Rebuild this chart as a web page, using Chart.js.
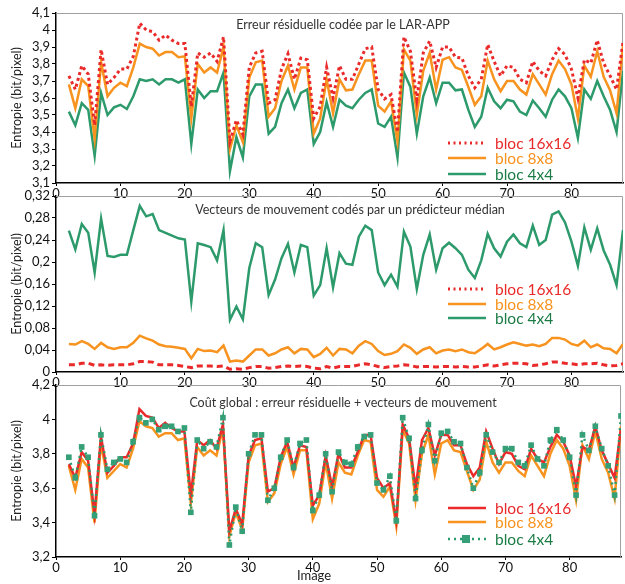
<!DOCTYPE html>
<html>
<head>
<meta charset="utf-8">
<script src="https://cdn.jsdelivr.net/npm/chart.js@4"></script>
<style>
  html, body { margin: 0; padding: 0; background: #fff; }
  #wrap { position: relative; width: 625px; height: 584px; }
  #wrap canvas { position: absolute; left: 0; }
</style>
</head>
<body>
<div id="wrap">
  <canvas id="c1" width="625" height="200" style="top:0"></canvas>
  <canvas id="c2" width="625" height="204" style="top:186px"></canvas>
  <canvas id="c3" width="625" height="209" style="top:375px"></canvas>
</div>
<script>
// Entropie par image, blocs 16x16 / 8x8 / 4x4

const images = [
  2, 3, 4, 5, 6, 7, 8, 9, 10, 11,
  12, 13, 14, 15, 16, 17, 18, 19, 20, 21,
  22, 23, 24, 25, 26, 27, 28, 29, 30, 31,
  32, 33, 34, 35, 36, 37, 38, 39, 40, 41,
  42, 43, 44, 45, 46, 47, 48, 49, 50, 51,
  52, 53, 54, 55, 56, 57, 58, 59, 60, 61,
  62, 63, 64, 65, 66, 67, 68, 69, 70, 71,
  72, 73, 74, 75, 76, 77, 78, 79, 80, 81,
  82, 83, 84, 85, 86, 87, 88
];

// erreur résiduelle (LAR-APP)
const err16 = [
  3.73, 3.65, 3.79, 3.74, 3.44, 3.885, 3.68, 3.72, 3.77, 3.77,
  3.845, 4.04, 4.00, 3.99, 3.94, 3.97, 3.94, 3.92, 3.92, 3.55,
  3.865, 3.84, 3.865, 3.815, 3.96, 3.345, 3.47, 3.385, 3.78, 3.865,
  3.875, 3.57, 3.59, 3.77, 3.86, 3.71, 3.835, 3.825, 3.48, 3.55,
  3.78, 3.60, 3.79, 3.71, 3.71, 3.80, 3.89, 3.90, 3.65, 3.595,
  3.62, 3.40, 3.96, 3.875, 3.59, 3.865, 3.935, 3.78, 3.90, 3.90,
  3.84, 3.835, 3.73, 3.66, 3.71, 3.915, 3.815, 3.73, 3.79, 3.78,
  3.71, 3.69, 3.815, 3.76, 3.73, 3.825, 3.89, 3.855, 3.77, 3.60,
  3.825, 3.805, 3.94, 3.805, 3.73, 3.65, 3.93
];
const err8 = [
  3.68, 3.54, 3.71, 3.67, 3.36, 3.81, 3.61, 3.66, 3.69, 3.67,
  3.78, 3.92, 3.90, 3.89, 3.85, 3.87, 3.87, 3.84, 3.845, 3.48,
  3.80, 3.75, 3.78, 3.75, 3.90, 3.30, 3.44, 3.34, 3.72, 3.81,
  3.82, 3.49, 3.54, 3.70, 3.79, 3.65, 3.78, 3.78, 3.39, 3.48,
  3.71, 3.51, 3.71, 3.645, 3.65, 3.74, 3.82, 3.82, 3.555, 3.52,
  3.58, 3.345, 3.885, 3.82, 3.50, 3.76, 3.865, 3.65, 3.825, 3.84,
  3.78, 3.765, 3.665, 3.56, 3.61, 3.82, 3.71, 3.64, 3.70, 3.70,
  3.65, 3.62, 3.74, 3.68, 3.62, 3.74, 3.82, 3.77, 3.68, 3.48,
  3.79, 3.725, 3.875, 3.725, 3.645, 3.51, 3.91
];
const err4 = [
  3.52, 3.44, 3.57, 3.53, 3.26, 3.63, 3.50, 3.545, 3.56, 3.535,
  3.61, 3.71, 3.70, 3.71, 3.68, 3.71, 3.71, 3.69, 3.71, 3.33,
  3.65, 3.60, 3.64, 3.64, 3.75, 3.17, 3.37, 3.25, 3.61, 3.68,
  3.68, 3.39, 3.43, 3.57, 3.65, 3.54, 3.63, 3.65, 3.33, 3.40,
  3.575, 3.43, 3.59, 3.555, 3.54, 3.59, 3.63, 3.65, 3.45, 3.43,
  3.49, 3.25, 3.75, 3.665, 3.39, 3.61, 3.72, 3.57, 3.69, 3.69,
  3.645, 3.65, 3.53, 3.43, 3.49, 3.66, 3.58, 3.54, 3.59, 3.58,
  3.52, 3.50, 3.585, 3.54, 3.49, 3.59, 3.65, 3.61, 3.54, 3.365,
  3.65, 3.595, 3.70, 3.61, 3.53, 3.40, 3.76
];

// vecteurs de mouvement (prédicteur médian)
const mv16 = [
  0.013, 0.013, 0.016, 0.016, 0.012, 0.013, 0.012, 0.013, 0.013, 0.013,
  0.015, 0.019, 0.019, 0.018, 0.013, 0.013, 0.013, 0.012, 0.010, 0.008,
  0.011, 0.011, 0.011, 0.010, 0.011, 0.005, 0.006, 0.005, 0.008, 0.010,
  0.010, 0.007, 0.008, 0.010, 0.011, 0.010, 0.011, 0.010, 0.007, 0.006,
  0.010, 0.007, 0.010, 0.010, 0.010, 0.013, 0.015, 0.013, 0.010, 0.008,
  0.010, 0.011, 0.013, 0.012, 0.009, 0.010, 0.010, 0.009, 0.010, 0.010,
  0.009, 0.010, 0.009, 0.009, 0.011, 0.013, 0.011, 0.013, 0.015, 0.016,
  0.016, 0.015, 0.012, 0.013, 0.015, 0.018, 0.018, 0.016, 0.015, 0.013,
  0.015, 0.015, 0.016, 0.013, 0.011, 0.012, 0.015
];
const mv8 = [
  0.051, 0.050, 0.056, 0.051, 0.042, 0.053, 0.045, 0.042, 0.045, 0.045,
  0.053, 0.066, 0.061, 0.057, 0.050, 0.047, 0.046, 0.044, 0.042, 0.025,
  0.042, 0.038, 0.039, 0.036, 0.048, 0.019, 0.021, 0.019, 0.030, 0.041,
  0.041, 0.030, 0.034, 0.041, 0.045, 0.034, 0.042, 0.041, 0.027, 0.033,
  0.044, 0.030, 0.042, 0.041, 0.034, 0.048, 0.056, 0.051, 0.038, 0.031,
  0.033, 0.038, 0.050, 0.044, 0.033, 0.041, 0.045, 0.034, 0.039, 0.041,
  0.038, 0.041, 0.036, 0.034, 0.042, 0.051, 0.041, 0.045, 0.050, 0.054,
  0.051, 0.048, 0.050, 0.047, 0.051, 0.062, 0.062, 0.059, 0.051, 0.048,
  0.057, 0.045, 0.050, 0.043, 0.042, 0.034, 0.051
];
const mv4 = [
  0.257, 0.223, 0.269, 0.253, 0.181, 0.279, 0.211, 0.209, 0.213, 0.213,
  0.258, 0.302, 0.283, 0.287, 0.258, 0.253, 0.248, 0.243, 0.241, 0.128,
  0.234, 0.231, 0.227, 0.203, 0.258, 0.095, 0.119, 0.096, 0.189, 0.234,
  0.227, 0.140, 0.168, 0.207, 0.233, 0.181, 0.231, 0.227, 0.139, 0.158,
  0.225, 0.154, 0.216, 0.197, 0.195, 0.246, 0.266, 0.258, 0.181, 0.158,
  0.177, 0.155, 0.255, 0.228, 0.151, 0.213, 0.250, 0.186, 0.225, 0.235,
  0.225, 0.213, 0.186, 0.171, 0.203, 0.251, 0.225, 0.210, 0.237, 0.250,
  0.234, 0.227, 0.266, 0.231, 0.240, 0.286, 0.292, 0.272, 0.237, 0.193,
  0.263, 0.222, 0.261, 0.221, 0.195, 0.158, 0.258
];

// coût global
const tot16 = [
  3.74, 3.66, 3.81, 3.76, 3.45, 3.90, 3.69, 3.73, 3.78, 3.78,
  3.86, 4.06, 4.02, 4.01, 3.95, 3.98, 3.95, 3.93, 3.93, 3.56,
  3.88, 3.85, 3.88, 3.83, 3.97, 3.35, 3.48, 3.39, 3.79, 3.88,
  3.89, 3.58, 3.60, 3.78, 3.87, 3.72, 3.85, 3.84, 3.50, 3.56,
  3.79, 3.61, 3.80, 3.72, 3.72, 3.81, 3.91, 3.91, 3.66, 3.60,
  3.63, 3.41, 3.97, 3.89, 3.60, 3.88, 3.95, 3.79, 3.91, 3.91,
  3.85, 3.85, 3.74, 3.67, 3.72, 3.93, 3.83, 3.74, 3.81, 3.80,
  3.73, 3.71, 3.83, 3.77, 3.75, 3.84, 3.91, 3.87, 3.79, 3.61,
  3.84, 3.82, 3.96, 3.82, 3.74, 3.66, 3.95
];
const tot8 = [
  3.73, 3.59, 3.77, 3.72, 3.40, 3.86, 3.66, 3.70, 3.74, 3.72,
  3.83, 3.99, 3.96, 3.95, 3.90, 3.92, 3.92, 3.88, 3.89, 3.51,
  3.84, 3.79, 3.82, 3.79, 3.95, 3.32, 3.46, 3.36, 3.75, 3.85,
  3.86, 3.52, 3.57, 3.74, 3.84, 3.68, 3.82, 3.82, 3.42, 3.51,
  3.75, 3.54, 3.75, 3.69, 3.68, 3.79, 3.88, 3.87, 3.59, 3.55,
  3.61, 3.38, 3.94, 3.86, 3.53, 3.80, 3.91, 3.68, 3.86, 3.88,
  3.82, 3.81, 3.70, 3.59, 3.65, 3.87, 3.75, 3.69, 3.75, 3.75,
  3.70, 3.67, 3.79, 3.73, 3.67, 3.80, 3.88, 3.83, 3.73, 3.53,
  3.85, 3.77, 3.93, 3.77, 3.69, 3.54, 3.96
];
const tot4 = [
  3.78, 3.66, 3.84, 3.78, 3.44, 3.91, 3.71, 3.75, 3.77, 3.75,
  3.87, 4.01, 3.98, 4.00, 3.94, 3.96, 3.96, 3.93, 3.95, 3.46,
  3.88, 3.83, 3.87, 3.84, 4.01, 3.27, 3.49, 3.35, 3.80, 3.91,
  3.91, 3.53, 3.60, 3.78, 3.88, 3.72, 3.86, 3.88, 3.47, 3.56,
  3.80, 3.58, 3.81, 3.75, 3.74, 3.84, 3.90, 3.91, 3.63, 3.59,
  3.67, 3.41, 4.01, 3.89, 3.54, 3.82, 3.97, 3.76, 3.92, 3.93,
  3.87, 3.86, 3.72, 3.60, 3.69, 3.91, 3.81, 3.75, 3.83, 3.83,
  3.75, 3.73, 3.85, 3.77, 3.73, 3.88, 3.94, 3.88, 3.78, 3.56,
  3.91, 3.82, 3.96, 3.83, 3.73, 3.56, 4.02
];

const seriesNames = ["bloc 16x16", "bloc 8x8", "bloc 4x4"];
const xTicks = [0, 10, 20, 30, 40, 50, 60, 70, 80];

const RED = "#ea2a2a";
const ORANGE = "#f7931e";
const GREEN = "#2d9a6c";
const GREEN_TXT = "#1b7c45";
const FONT = "'Comic Sans MS', Lato, sans-serif";

Chart.defaults.font.family = FONT;
Chart.defaults.color = "#222";
Chart.defaults.animation = false;

const pts = vals => vals.map((v, i) => ({ x: images[i], y: v }));
const comma = v => String(+v.toFixed(2)).replace(".", ",");

// frame, in-plot title, legend and optional x title
const overlay = {
  id: "overlay",
  beforeDatasetsDraw(chart) {
    const a = chart.chartArea, ctx = chart.ctx;
    ctx.save();
    ctx.strokeStyle = "#a0a0a0";
    ctx.lineWidth = 1;
    ctx.beginPath();
    ctx.moveTo(a.left, a.top + 0.5);
    ctx.lineTo(a.right - 0.5, a.top + 0.5);
    ctx.lineTo(a.right - 0.5, a.bottom);
    ctx.stroke();
    ctx.restore();
  },
  afterDraw(chart, args, opts) {
    const ctx = chart.ctx;
    ctx.save();
    ctx.font = "12.5px " + FONT;
    ctx.fillStyle = "#333";
    ctx.textAlign = "center";
    ctx.textBaseline = "middle";
    ctx.fillText(opts.title, opts.titleX, opts.titleY);

    if (opts.xTitle) {
      ctx.font = "13px " + FONT;
      ctx.fillStyle = "#222";
      ctx.fillText(opts.xTitle, 314, chart.chartArea.bottom + 19);
    }

    ctx.textAlign = "left";
    ctx.font = "15.5px " + FONT;
    opts.legendOrder.forEach((di, i) => {
      const ds = chart.data.datasets[di];
      const y = opts.rows[i];
      ctx.strokeStyle = ds.borderColor;
      ctx.lineWidth = ds.borderWidth;
      ctx.setLineDash(ds.legendDash || []);
      ctx.beginPath();
      ctx.moveTo(448, y);
      ctx.lineTo(486, y);
      ctx.stroke();
      ctx.setLineDash([]);
      if (ds.pointRadius > 0) {
        ctx.fillStyle = ds.pointBackgroundColor;
        ctx.fillRect(462, y - 4, 8, 8);
      }
      ctx.fillStyle = ds.textColor;
      ctx.fillText(ds.label, 495, y + 1);
    });
    ctx.restore();
  }
};

function makeChart(id, datasets, y, extra) {
  return new Chart(document.getElementById(id), {
    type: "line",
    data: { datasets },
    options: {
      responsive: false,
      layout: { padding: { top: extra.top, right: 2, left: 0, bottom: 0 } },
      elements: { line: { tension: 0 } },
      plugins: {
        legend: { display: false },
        tooltip: { enabled: false },
        overlay: extra.overlay
      },
      scales: {
        x: {
          type: "linear",
          min: 0,
          max: 88,
          afterFit: s => { s.height = extra.xh; },
          afterBuildTicks: s => { s.ticks = xTicks.map(v => ({ value: v })); },
          ticks: { padding: 0, font: { size: 13 }, color: "#111", maxRotation: 0, autoSkip: false },
          grid: { display: true, drawOnChartArea: false, tickLength: 3, color: "#000" },
          border: { color: "#000", width: 1.5 }
        },
        y: {
          min: y.min,
          max: y.max,
          afterFit: s => { s.width = 56; },
          ticks: { stepSize: y.step, padding: 2, font: { size: 13 }, color: "#111", callback: comma, autoSkip: false },
          grid: { display: true, drawOnChartArea: false, tickLength: 4, color: "#000" },
          border: { color: "#000", width: 1.5 },
          title: { display: true, text: "Entropie (bit/pixel)", font: { size: 12.5 }, color: "#222", padding: { top: 9, bottom: 0 } }
        }
      }
    },
    plugins: [overlay]
  });
}

const line = (label, vals, color, txt, width, dash, legendDash, order) => ({
  label, data: pts(vals), borderColor: color, backgroundColor: color,
  borderWidth: width, borderDash: dash, pointRadius: 0, fill: false,
  textColor: txt, legendDash, order
});

makeChart("c1", [
  line(seriesNames[0], err16, RED, RED, 3, [3, 3], [2, 3.5], 0),
  line(seriesNames[1], err8, ORANGE, ORANGE, 2.5, [], [], 1),
  line(seriesNames[2], err4, GREEN, GREEN_TXT, 2.5, [], [], 2)
], { min: 3.1, max: 4.1, step: 0.1 }, {
  top: 13, xh: 17,
  overlay: { title: "Erreur résiduelle codée par le LAR-APP", titleX: 343, titleY: 25, rows: [143, 158, 174], legendOrder: [0, 1, 2] }
});

makeChart("c2", [
  line(seriesNames[0], mv16, RED, RED, 3, [6, 4], [2, 3.5], 0),
  line(seriesNames[1], mv8, ORANGE, ORANGE, 2.5, [], [], 1),
  line(seriesNames[2], mv4, GREEN, GREEN_TXT, 2.5, [], [], 2)
], { min: 0, max: 0.32, step: 0.04 }, {
  top: 10, xh: 18,
  overlay: { title: "Vecteurs de mouvement codés par un prédicteur médian", titleX: 350, titleY: 24, rows: [103, 118, 132], legendOrder: [0, 1, 2] }
});

// squares of the 4x4 series sit on top of the two lines
const tot4ds = line(seriesNames[2], tot4, GREEN, GREEN_TXT, 2.5, [2, 4], [2, 4], 0);
tot4ds.pointRadius = 4;
tot4ds.pointStyle = "rect";
tot4ds.pointBackgroundColor = "#35a077";
tot4ds.pointBorderColor = "#35a077";
tot4ds.pointBorderWidth = 0;

makeChart("c3", [
  line(seriesNames[0], tot16, RED, RED, 2.5, [], [], 1),
  line(seriesNames[1], tot8, ORANGE, ORANGE, 2.5, [], [], 2),
  tot4ds
], { min: 3.2, max: 4.2, step: 0.2 }, {
  top: 10, xh: 27,
  overlay: { title: "Coût global : erreur résiduelle + vecteurs de mouvement", titleX: 343, titleY: 28, rows: [133, 147, 164], legendOrder: [0, 1, 2], xTitle: "Image" }
});
</script>
</body>
</html>
